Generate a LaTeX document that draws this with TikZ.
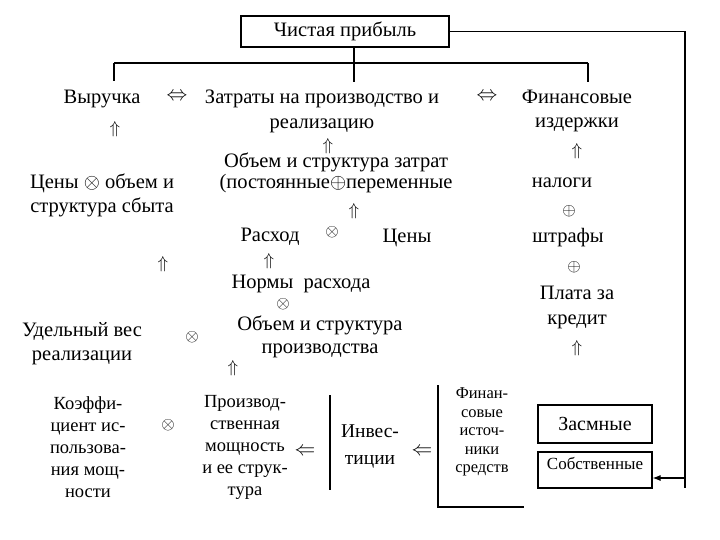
\documentclass[tikz,border=0pt]{standalone}
\usepackage{fontspec}
\setmainfont{Liberation Serif}
\usetikzlibrary{arrows.meta,calc}
\newcommand{\pUp}{$\Uparrow$}
\newcommand{\pLR}{$\Leftrightarrow$}
\newcommand{\pLeft}{$\Leftarrow$}
\newcommand{\pMul}{$\otimes$}
\newcommand{\pAdd}{$\oplus$}
\tikzset{
  ptext/.style={align=center,inner sep=0pt,font=\fontsize{20.5}{24}\selectfont},
  psmall/.style={align=center,inner sep=0pt,font=\fontsize{16.5}{18.5}\selectfont},
  psym/.style={inner sep=0pt,font=\fontsize{20}{20}\selectfont},
  pup/.style={inner sep=0pt,font=\fontsize{18}{18}\selectfont},
  pop/.style={inner sep=0pt,font=\fontsize{17}{17}\selectfont},
  pbox/.style={draw,line width=1.1pt,inner sep=2pt,align=center},
  pline/.style={draw,line width=1.1pt},
  plink/.style={-{Latex[length=8pt,width=6pt]},draw,line width=1.1pt},
}

\begin{document}
\begin{tikzpicture}[x=1pt,y=-1pt]
\useasboundingbox (0,0) rectangle (720,540);
% result
\node[pbox,minimum width=208pt,minimum height=31pt,font=\fontsize{20.5}{22}\selectfont] (profit) at (345,31.5) {Чистая прибыль};
\coordinate (brL) at (114,63);
\coordinate (brM) at (354,63);
\coordinate (brR) at (588,63);
\coordinate (tickL) at (114,81);
\coordinate (tickM) at (354,82);
\coordinate (tickR) at (588,82);
\draw[pline] (profit.south -| brM) -- (tickM);
\draw[pline] (brL) -- (brR);
\draw[pline] (brL) -- (tickL);
\draw[pline] (brR) -- (tickR);
% first level
\node[ptext] (rev) at (102,99) {Выручка};
\node[psym] (eqA) at (177,97) {\pLR};
\node[ptext,font=\fontsize{20.5}{25}\selectfont] (cost) at (322,111.5) {Затраты на производство и\\реализацию};
\node[psym] (eqB) at (487,97) {\pLR};
\node[ptext] (fin) at (577,111) {Финансовые\\издержки};
\node[pup] (upA) at (115,129) {\pUp};
\node[pup] (upB) at (328,146) {\pUp};
\node[pup] (upC) at (577,151) {\pUp};
% revenue branch
\node[ptext] (sales) at (102,195) {Цены \pMul{} объем и\\структура сбыта};
\node[pup] (upD) at (163,264) {\pUp};
\node[ptext] (share) at (82,344) {Удельный вес\\реализации};
\node[pop] (mulC) at (192,337) {\pMul};
% cost branch
\node[ptext,font=\fontsize{20.5}{21}\selectfont] (costvol) at (336,173) {Объем и структура затрат\\(постоянные\pAdd переменные};
\node[pup] (upE) at (354,211) {\pUp};
\node[ptext] (use) at (270,237) {Расход};
\node[pop] (mulA) at (332,232) {\pMul};
\node[ptext] (price) at (407,238) {Цены};
\node[pup] (upF) at (269,261) {\pUp};
\node[ptext] (norm) at (301,284) {Нормы\enspace расхода};
\node[pop] (mulB) at (283,304) {\pMul};
\node[ptext,font=\fontsize{20.5}{23}\selectfont] (prodvol) at (320,337) {Объем и структура\\производства};
\node[pup] (upG) at (233,368) {\pUp};
% financial branch
\node[ptext] (tax) at (562,183) {налоги};
\node[pop] (addA) at (569,211) {\pAdd};
\node[ptext] (fine) at (568,238) {штрафы};
\node[pop] (addB) at (574,267) {\pAdd};
\node[ptext,font=\fontsize{20.5}{25}\selectfont] (credit) at (577,307.5) {Плата за\\кредит};
\node[pup] (upH) at (577,348) {\pUp};
% bottom row
\node[ptext,font=\fontsize{18.5}{22}\selectfont] (coef) at (88,447) {Коэффи-\\циент ис-\\пользова-\\ния мощ-\\ности};
\node[pop] (mulD) at (168,425) {\pMul};
\node[ptext,font=\fontsize{18.5}{22}\selectfont] (cap) at (245,447) {Производ-\\ственная\\мощность\\и ее струк-\\тура};
\node[psym] (leftA) at (305,452) {\pLeft};
\coordinate (invT) at (330,395);
\coordinate (invB) at (330,490);
\draw[pline] (invT) -- (invB);
\node[ptext,font=\fontsize{19.5}{27}\selectfont] (inv) at (370,446.5) {Инвес-\\тиции};
\node[psym] (leftB) at (422,452) {\pLeft};
\coordinate (srcT) at (438,385);
\coordinate (srcC) at (438,507);
\coordinate (srcR) at (524,507);
\draw[pline] (srcT) -- (srcC) -- (srcR);
\node[psmall] (src) at (482,432) {Финан-\\совые\\источ-\\ники\\средств};
\node[pbox,minimum width=114pt,minimum height=38pt,font=\fontsize{20}{22}\selectfont] (loan) at (595,424) {Засмные};
\node[pbox,minimum width=114pt,minimum height=36pt,text depth=14pt,font=\fontsize{17}{18}\selectfont] (own) at (595,470) {Собственные};
% feedback of the result
\coordinate (rBot) at (685,488);
\draw[pline] (profit.east) -| (rBot);
\draw[plink] (rBot |- {$(own.east)+(0,8)$}) -- ($(own.east)+(0,8)$);
\end{tikzpicture}
\end{document}
